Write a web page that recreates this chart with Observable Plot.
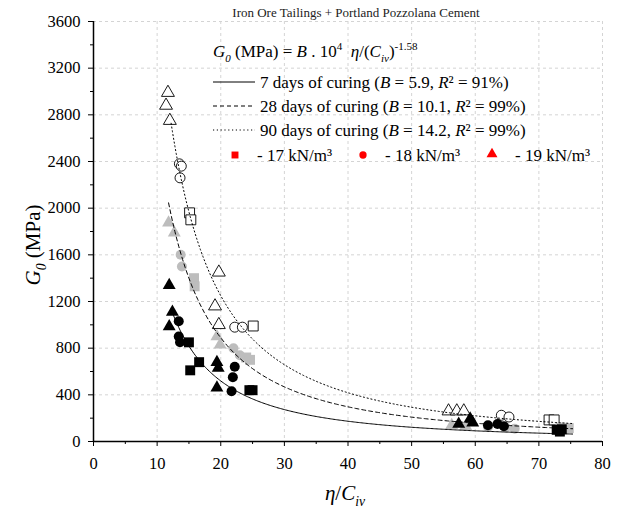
<!DOCTYPE html>
<html><head><meta charset="utf-8">
<script src="https://cdn.jsdelivr.net/npm/d3@7"></script>
<script src="https://cdn.jsdelivr.net/npm/@observablehq/plot@0.6"></script>
<style>body{margin:0;background:#fff} svg{display:block} svg text{font-family:'Liberation Serif','Times New Roman',serif !important}</style>
</head><body><div id="chart"></div>
<script>
const title = "Iron Ore Tailings + Portland Pozzolana Cement";
const unitWeights = [17, 18, 19];
const unitLabels = ["- 17 kN/m³", "- 18 kN/m³", "- 19 kN/m³"];
const curingDays = [7, 28, 90];
const fitB = [5.9, 10.1, 14.2];
const fitR2 = [91, 99, 99];
const fitExponent = -1.58;
const fitStart = [12.2, 11.8, 12.2];
const fitEnd = 75.3;
const xTicks = [0, 10, 20, 30, 40, 50, 60, 70, 80];
const yTicks = [0, 400, 800, 1200, 1600, 2000, 2400, 2800, 3200, 3600];

// 7 days of curing (black filled)
const ratio7 = [11.9,12.4,11.9,19.4,19.6,19.4,57.4,59.2,59.6, 13.4,13.4,13.6,22.2,21.9,21.7,62.0,63.5,64.5, 15.0,16.6,15.2,24.5,25.0,72.8,73.3,73.6];
const g0_7   = [1340,1110,985,680,630,460,150,195,160, 1030,900,850,640,550,430,140,150,130, 850,680,610,440,440,100,85,105];
const unit7  = [19,19,19,19,19,19,19,19,19, 18,18,18,18,18,18,18,18,18, 17,17,17,17,17,17,17,17];

// 28 days of curing (grey filled)
const ratio28 = [11.8,12.7,19.4,19.9,56.3,58.5, 13.7,13.9,22.0,23.0,62.0,64.8,66.2, 15.8,15.9,24.0,24.6,73.4,74.7];
const g0_28   = [1875,1790,900,830,140,130, 1600,1500,800,740,125,120,110, 1400,1330,720,700,120,115];
const unit28  = [19,19,19,19,19,19, 18,18,18,18,18,18,18, 17,17,17,17,17,17];

// 90 days of curing (open)
const ratio90 = [11.7,11.4,12.0,19.7,19.1,19.7,55.8,57.1,58.2, 13.5,13.8,13.6,22.2,23.4,64.1,65.3, 15.1,15.3,25.1,71.6,72.4];
const g0_90   = [2990,2880,2750,1450,1160,1000,260,260,260, 2380,2360,2260,980,980,225,210, 1960,1900,990,185,185];
const unit90  = [19,19,19,19,19,19,19,19,19, 18,18,18,18,18,18,18, 17,17,17,17,17];

const rows = (rx, ry, ru) => rx.map((x, i) => ({x, y: ry[i], unit: ru[i]}));
const pts7 = rows(ratio7, g0_7, unit7);
const pts28 = rows(ratio28, g0_28, unit28);
const pts90 = rows(ratio90, g0_90, unit90);

const curves = fitB.map((B, i) => d3.range(fitStart[i], fitEnd, 0.2).concat([fitEnd]).map(x => ({x, y: B * 1e4 * Math.pow(x, fitExponent)})));

const rByUnit = {17: 5.6, 18: 5, 19: 4.8};
const rOf = d => rByUnit[d.unit];
const xMinor = d3.range(5, 80, 10);
const yMinor = d3.range(200, 3600, 400);
const serif = "'Liberation Serif', 'Times New Roman', serif";
const grey = "#bdbdbd";
const gridStyle = {stroke: "#d4d4d4", strokeOpacity: 1, strokeDasharray: "3,3"};

const svg = Plot.plot({
  width: 624, height: 517,
  marginLeft: 93, marginRight: 22, marginTop: 21, marginBottom: 76,
  style: {fontFamily: serif, fontSize: "16px", background: "white", color: "black"},
  x: {domain: [0, 80]},
  y: {domain: [0, 3600]},
  r: {type: "identity"},
  symbol: {domain: unitWeights, range: ["square", "circle", "triangle"]},
  marks: [
    Plot.gridX(xTicks.slice(1), gridStyle),
    Plot.gridY(yTicks.slice(1), gridStyle),
    Plot.axisX(xTicks, {tickSize: 5, tickPadding: 11, label: null, fontSize: 16.5, fontFamily: serif, tickFormat: d => String(d)}),
    Plot.axisX(xMinor, {tickSize: 3, tickFormat: () => "", label: null}),
    Plot.axisY(yTicks, {tickSize: 5, tickPadding: 8, label: null, fontSize: 16.5, fontFamily: serif, tickFormat: d => String(d)}),
    Plot.axisY(yMinor, {tickSize: 3, tickFormat: () => "", label: null}),
    Plot.ruleY([0], {stroke: "black", strokeWidth: 1.5}),
    Plot.ruleX([0], {stroke: "black", strokeWidth: 1.5}),
    Plot.dot(pts90, {x: "x", y: "y", symbol: "unit", r: rOf, fill: "white", stroke: "black", strokeWidth: 0.9}),
    Plot.dot(pts28, {x: "x", y: "y", symbol: "unit", r: rOf, fill: grey, stroke: "none"}),
    Plot.dot(pts7, {x: "x", y: "y", symbol: "unit", r: rOf, fill: "black", stroke: "none"}),
    Plot.line(curves[0], {x: "x", y: "y", stroke: "black", strokeWidth: 1}),
    Plot.line(curves[1], {x: "x", y: "y", stroke: "black", strokeWidth: 1, strokeDasharray: "4,3"}),
    Plot.line(curves[2], {x: "x", y: "y", stroke: "black", strokeWidth: 1, strokeDasharray: "1.2,2.6"}),
    Plot.text([title], {frameAnchor: "top", dx: 8, dy: -9, lineAnchor: "middle", fontSize: 13, fontFamily: serif, fill: "#222"})
  ]
});
svg.setAttribute("font-family", serif);
document.getElementById("chart").appendChild(svg);

const s = d3.select(svg);
s.selectAll("text").attr("font-family", serif);
function rich(parent, x, y, segs, size, attrs = {}) {
  const t = parent.append("text").attr("x", x).attr("y", y).attr("font-size", size)
    .attr("font-family", serif).attr("fill", "black").attr("text-anchor", "start");
  for (const [k, v] of Object.entries(attrs)) t.attr(k, v);
  let shift = 0;
  for (const seg of segs) {
    const ts = t.append("tspan").text(seg.t);
    if (seg.i) ts.attr("font-style", "italic");
    const target = seg.sub ? size * 0.28 : seg.sup ? -size * 0.42 : 0;
    if (target !== shift) { ts.attr("dy", target - shift); shift = target; }
    if (seg.sub || seg.sup) ts.attr("font-size", size * 0.65);
  }
  return t;
}

// Legend
const lg = s.append("g");
rich(lg, 213, 57, [
  {t: "G", i: 1}, {t: "0", i: 1, sub: 1}, {t: " (MPa) = "}, {t: "B", i: 1}, {t: " . 10"}, {t: "4", sup: 1},
  {t: "  "}, {t: "η", i: 1}, {t: "/(" }, {t: "C", i: 1}, {t: "iv", i: 1, sub: 1}, {t: ")"}, {t: "-1.58", sup: 1}
], 17);
const dashes = [null, "4,3", "1.2,2.6"];
const lineY = [82, 106, 130];
const textY = [88, 112, 136];
curingDays.forEach((d, i) => {
  const l = lg.append("line").attr("x1", 213).attr("x2", 255).attr("y1", lineY[i]).attr("y2", lineY[i])
    .attr("stroke", "black").attr("stroke-width", 1);
  if (dashes[i]) l.attr("stroke-dasharray", dashes[i]);
  rich(lg, 260, textY[i], [
    {t: `${d} days of curing (`}, {t: "B", i: 1}, {t: ` = ${fitB[i]}, `}, {t: "R", i: 1}, {t: "²"}, {t: ` = ${fitR2[i]}%)`}
  ], 17);
});
const symX = [235, 363, 492];
const txtX = [257, 385, 515];
const syms = [d3.symbolSquare, d3.symbolCircle, d3.symbolTriangle];
const symSize = [48, 42, 52];
unitWeights.forEach((u, i) => {
  lg.append("path").attr("d", d3.symbol(syms[i], symSize[i])())
    .attr("transform", `translate(${symX[i]},${i === 2 ? 154 : 155})`).attr("fill", "#ff0000");
  lg.append("text").attr("x", txtX[i]).attr("y", 161).attr("font-size", 17).attr("font-family", serif)
    .attr("fill", "black").attr("text-anchor", "start").text(unitLabels[i]);
});

// Axis labels
rich(s, 0, 0, [{t: "G", i: 1}, {t: "0", i: 1, sub: 1}, {t: " (MPa)"}], 21,
  {"text-anchor": "middle", transform: "translate(40,245) rotate(-90)"});
rich(s, 345, 500, [{t: "η", i: 1}, {t: "/"}, {t: "C", i: 1}, {t: "iv", i: 1, sub: 1}], 21, {"text-anchor": "middle"});
</script></body></html>
